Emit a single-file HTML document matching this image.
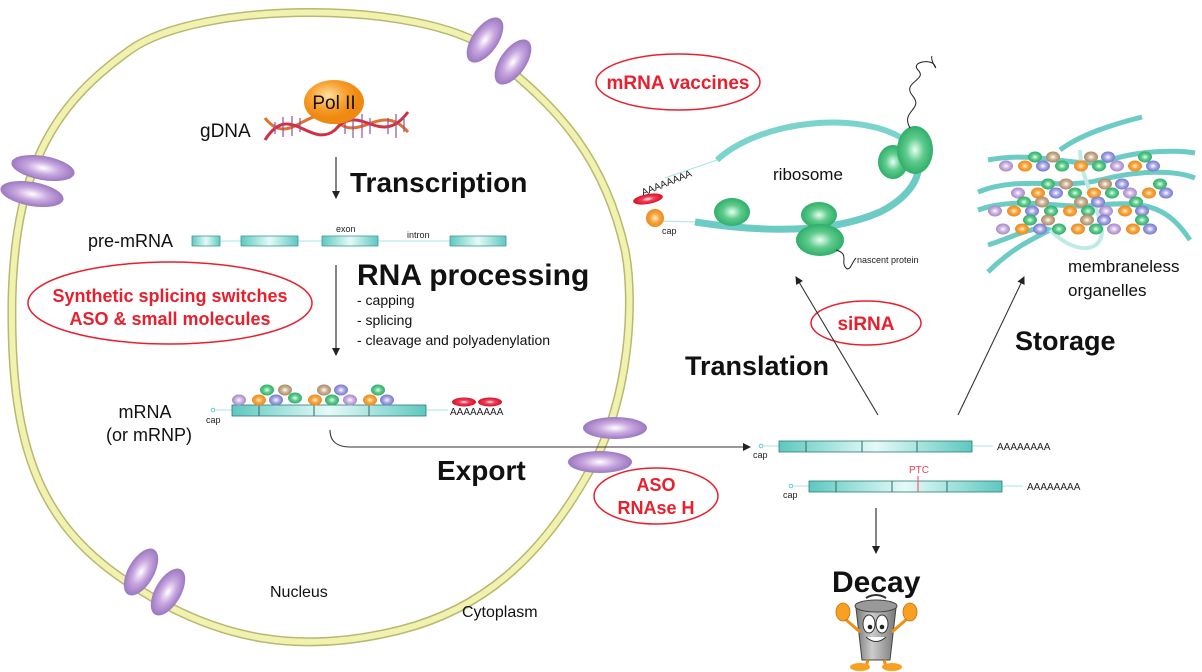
<!DOCTYPE html>
<html><head><meta charset="utf-8"><style>
html,body{margin:0;padding:0;background:#fff;width:1202px;height:672px;overflow:hidden}
svg{display:block;font-family:"Liberation Sans",Arial,sans-serif}
</style></head><body>
<svg width="1202" height="672" viewBox="0 0 1202 672" xmlns="http://www.w3.org/2000/svg">
<defs>
<radialGradient id="gG"><stop offset="0" stop-color="#e8fff0"/><stop offset="0.5" stop-color="#5fcb8d"/><stop offset="1" stop-color="#2fae6a"/></radialGradient>
<radialGradient id="gO"><stop offset="0" stop-color="#fff2d0"/><stop offset="0.5" stop-color="#f7a640"/><stop offset="1" stop-color="#ec8a1e"/></radialGradient>
<radialGradient id="gP"><stop offset="0" stop-color="#fff"/><stop offset="0.5" stop-color="#cdb3e3"/><stop offset="1" stop-color="#a788c8"/></radialGradient>
<radialGradient id="gB"><stop offset="0" stop-color="#fff"/><stop offset="0.5" stop-color="#a8a8e6"/><stop offset="1" stop-color="#7777cc"/></radialGradient>
<radialGradient id="gBr"><stop offset="0" stop-color="#fff"/><stop offset="0.5" stop-color="#cdb293"/><stop offset="1" stop-color="#a88a68"/></radialGradient>
<radialGradient id="gR"><stop offset="0" stop-color="#fff"/><stop offset="0.4" stop-color="#f0405a"/><stop offset="1" stop-color="#d81028"/></radialGradient>
<radialGradient id="gPore"><stop offset="0" stop-color="#fff"/><stop offset="0.5" stop-color="#c9a8e0"/><stop offset="1" stop-color="#9b78c0"/></radialGradient>
<radialGradient id="gPol" cx="0.4" cy="0.35"><stop offset="0" stop-color="#ffe0a0"/><stop offset="0.6" stop-color="#f8a030"/><stop offset="1" stop-color="#ee8a10"/></radialGradient>
<linearGradient id="gT" x1="0" y1="0" x2="1" y2="0"><stop offset="0" stop-color="#5ec8c0"/><stop offset="0.5" stop-color="#e6faf8"/><stop offset="1" stop-color="#5ec8c0"/></linearGradient>
<linearGradient id="gCan" x1="0" y1="0" x2="1" y2="0"><stop offset="0" stop-color="#777"/><stop offset="0.4" stop-color="#ccc"/><stop offset="1" stop-color="#777"/></linearGradient>
<g id="bP"><ellipse rx="7" ry="5.5" fill="url(#gP)"/></g>
<g id="bO"><ellipse rx="7" ry="5.5" fill="url(#gO)"/></g>
<g id="bB"><ellipse rx="7" ry="5.5" fill="url(#gB)"/></g>
<g id="bG"><ellipse rx="7" ry="5.5" fill="url(#gG)"/></g>
<g id="bBr"><ellipse rx="7" ry="5.5" fill="url(#gBr)"/></g>
<marker id="ar" markerWidth="8" markerHeight="8" refX="7" refY="4" orient="auto" markerUnits="userSpaceOnUse"><path d="M0,0 L8,4 L0,8 Z" fill="#222"/></marker>
</defs>

<!-- nucleus -->
<path d="M490,50 C420,0 200,0 130,50 C60,100 15,160 12,300 C10,450 40,530 140,590 C220,640 300,655 400,630 C480,610 540,560 590,470 C630,400 635,300 625,250 C605,160 560,110 500,62" fill="none" stroke="#b8b870" stroke-width="9"/>
<path d="M490,50 C420,0 200,0 130,50 C60,100 15,160 12,300 C10,450 40,530 140,590 C220,640 300,655 400,630 C480,610 540,560 590,470 C630,400 635,300 625,250 C605,160 560,110 500,62" fill="none" stroke="#f2f2b0" stroke-width="6"/>
<!-- pores -->
<ellipse cx="485" cy="40" rx="13" ry="26" transform="rotate(35 485 40)" fill="url(#gPore)"/>
<ellipse cx="513" cy="62" rx="13" ry="26" transform="rotate(35 513 62)" fill="url(#gPore)"/>
<ellipse cx="43" cy="168" rx="32" ry="12" transform="rotate(10 43 168)" fill="url(#gPore)"/>
<ellipse cx="32" cy="194" rx="32" ry="12" transform="rotate(10 32 194)" fill="url(#gPore)"/>
<ellipse cx="141" cy="572" rx="13" ry="26" transform="rotate(30 141 572)" fill="url(#gPore)"/>
<ellipse cx="168" cy="592" rx="13" ry="26" transform="rotate(30 168 592)" fill="url(#gPore)"/>
<ellipse cx="615" cy="428" rx="32" ry="11" fill="url(#gPore)"/>
<ellipse cx="600" cy="462" rx="32" ry="11" fill="url(#gPore)"/>

<!-- DNA -->
<g stroke-width="1.2">
<path d="M265,118 C290,150 310,100 335,120 C360,145 380,100 408,132" fill="none" stroke="#e07030" stroke-width="3"/>
<path d="M265,140 C290,100 310,150 335,130 C360,100 380,150 408,112" fill="none" stroke="#d03040" stroke-width="3"/>
<g stroke="#9050a0">
<line x1="275" y1="122" x2="275" y2="134"/><line x1="283" y1="117" x2="283" y2="137"/><line x1="292" y1="116" x2="292" y2="136"/><line x1="300" y1="118" x2="300" y2="132"/>
<line x1="345" y1="118" x2="345" y2="134"/><line x1="353" y1="114" x2="353" y2="138"/><line x1="362" y1="114" x2="362" y2="138"/><line x1="370" y1="118" x2="370" y2="134"/>
<line x1="388" y1="118" x2="388" y2="134"/><line x1="396" y1="114" x2="396" y2="138"/><line x1="404" y1="116" x2="404" y2="132"/>
</g></g>
<ellipse cx="334" cy="102" rx="30" ry="22" fill="url(#gPol)"/>
<text x="334" y="109" font-size="19" text-anchor="middle" fill="#111">Pol II</text>
<text x="200" y="137" font-size="19" fill="#111">gDNA</text>

<line x1="336" y1="157" x2="336" y2="198" stroke="#333" stroke-width="1.2" marker-end="url(#ar)"/>
<text x="350" y="192" font-size="28" font-weight="bold" fill="#111">Transcription</text>

<!-- pre-mRNA -->
<text x="88" y="247" font-size="18" fill="#111">pre-mRNA</text>
<line x1="220" y1="241" x2="450" y2="241" stroke="#a8e4e0" stroke-width="1"/>
<g stroke="#3a9c94" stroke-width="0.8" fill="url(#gT)">
<rect x="192" y="236" width="28" height="10"/><rect x="241" y="236" width="57" height="10"/><rect x="322" y="236" width="56" height="10"/><rect x="450" y="236" width="56" height="10"/></g>
<text x="336" y="232" font-size="9" fill="#222">exon</text>
<text x="407" y="238" font-size="9" fill="#222">intron</text>

<line x1="336" y1="265" x2="336" y2="355" stroke="#333" stroke-width="1.2" marker-end="url(#ar)"/>
<text x="357" y="285" font-size="30" font-weight="bold" fill="#111">RNA processing</text>
<text x="357" y="305" font-size="14" fill="#111">- capping</text>
<text x="357" y="325" font-size="14" fill="#111">- splicing</text>
<text x="357" y="345" font-size="14" fill="#111">- cleavage and polyadenylation</text>

<ellipse cx="170" cy="303" rx="142" ry="41" fill="none" stroke="#e8202e" stroke-width="1.5"/>
<text x="170" y="302" font-size="18" font-weight="bold" fill="#e8202e" text-anchor="middle">Synthetic splicing switches</text>
<text x="170" y="325" font-size="18" font-weight="bold" fill="#e8202e" text-anchor="middle">ASO &amp; small molecules</text>

<!-- nuclear mRNA -->
<text x="145" y="418" font-size="18" fill="#111" text-anchor="middle">mRNA</text>
<text x="149" y="441" font-size="18" fill="#111" text-anchor="middle">(or mRNP)</text>
<text x="206" y="423" font-size="9" fill="#222">cap</text>
<circle cx="213" cy="410" r="1.8" fill="none" stroke="#6cc"/>
<line x1="215" y1="410" x2="448" y2="410" stroke="#a8e4e0"/>
<g stroke="#2a7c74" stroke-width="0.8" fill="url(#gT)"><rect x="232" y="405" width="194" height="11"/></g>
<g stroke="#2a6c64"><line x1="259" y1="405" x2="259" y2="416"/><line x1="314" y1="405" x2="314" y2="416"/><line x1="369" y1="405" x2="369" y2="416"/></g>
<ellipse cx="464" cy="402" rx="12" ry="4.5" fill="url(#gR)"/><ellipse cx="490" cy="402" rx="12" ry="4.5" fill="url(#gR)"/>
<text x="450" y="415" font-size="10" fill="#222">AAAAAAAA</text>
<use href="#bP" x="239" y="400"/><use href="#bO" x="259" y="400"/><use href="#bB" x="276" y="400"/><use href="#bG" x="295" y="398"/><use href="#bO" x="315" y="400"/><use href="#bG" x="332" y="400"/><use href="#bP" x="350" y="400"/><use href="#bO" x="370" y="400"/><use href="#bB" x="387" y="400"/>
<use href="#bG" x="267" y="390"/><use href="#bBr" x="285" y="390"/><use href="#bBr" x="324" y="390"/><use href="#bB" x="341" y="390"/><use href="#bG" x="378" y="390"/>

<!-- export -->
<path d="M330,430 C330,442 338,447 350,447 L750,447" fill="none" stroke="#333" stroke-width="1.1" marker-end="url(#ar)"/>
<text x="437" y="480" font-size="28" font-weight="bold" fill="#111">Export</text>
<text x="270" y="597" font-size="16" fill="#111">Nucleus</text>
<text x="462" y="617" font-size="16" fill="#111">Cytoplasm</text>

<ellipse cx="656" cy="496" rx="62" ry="28" fill="none" stroke="#e8202e" stroke-width="1.5"/>
<text x="656" y="491" font-size="18" font-weight="bold" fill="#e8202e" text-anchor="middle">ASO</text>
<text x="656" y="514" font-size="18" font-weight="bold" fill="#e8202e" text-anchor="middle">RNAse H</text>

<ellipse cx="678" cy="82" rx="82" ry="28" fill="none" stroke="#e8202e" stroke-width="1.5"/>
<text x="678" y="89" font-size="19" font-weight="bold" fill="#e8202e" text-anchor="middle">mRNA vaccines</text>

<ellipse cx="866" cy="323" rx="55" ry="22" fill="none" stroke="#e8202e" stroke-width="1.5"/>
<text x="866" y="330" font-size="19" font-weight="bold" fill="#e8202e" text-anchor="middle">siRNA</text>

<text x="685" y="375" font-size="27" font-weight="bold" fill="#111">Translation</text>
<text x="1015" y="350" font-size="27" font-weight="bold" fill="#111">Storage</text>
<line x1="878" y1="415" x2="796" y2="277" stroke="#333" stroke-width="1.1" marker-end="url(#ar)"/>
<line x1="958" y1="415" x2="1024" y2="277" stroke="#333" stroke-width="1.1" marker-end="url(#ar)"/>

<!-- cytoplasmic mRNAs -->
<circle cx="761" cy="446" r="1.8" fill="none" stroke="#6cc"/>
<line x1="763" y1="446" x2="993" y2="446" stroke="#a8e4e0"/>
<rect x="779" y="441" width="193" height="11" fill="url(#gT)" stroke="#2a7c74" stroke-width="0.8"/>
<g stroke="#2a6c64"><line x1="806" y1="441" x2="806" y2="452"/><line x1="862" y1="441" x2="862" y2="452"/><line x1="917" y1="441" x2="917" y2="452"/></g>
<text x="753" y="458" font-size="9" fill="#222">cap</text>
<text x="997" y="450" font-size="10" fill="#222">AAAAAAAA</text>
<circle cx="791" cy="486" r="1.8" fill="none" stroke="#6cc"/>
<line x1="793" y1="486" x2="1023" y2="486" stroke="#a8e4e0"/>
<rect x="809" y="481" width="193" height="11" fill="url(#gT)" stroke="#2a7c74" stroke-width="0.8"/>
<g stroke="#2a6c64"><line x1="836" y1="481" x2="836" y2="492"/><line x1="892" y1="481" x2="892" y2="492"/><line x1="947" y1="481" x2="947" y2="492"/></g>
<line x1="918" y1="476" x2="918" y2="492" stroke="#f06070" stroke-width="1.2"/>
<text x="909" y="473" font-size="10" fill="#f04050">PTC</text>
<text x="783" y="498" font-size="9" fill="#222">cap</text>
<text x="1027" y="490" font-size="10" fill="#222">AAAAAAAA</text>

<line x1="876" y1="508" x2="876" y2="553" stroke="#333" stroke-width="1.2" marker-end="url(#ar)"/>
<text x="832" y="592" font-size="30" font-weight="bold" fill="#111">Decay</text>

<!-- trash can -->
<g>
<path d="M856,608 L896,608 L890,660 L862,660 Z" fill="url(#gCan)" stroke="#444" stroke-width="1"/>
<ellipse cx="876" cy="606" rx="21" ry="6" fill="#999" stroke="#444"/>
<path d="M866,598 Q876,592 886,598" fill="none" stroke="#333" stroke-width="2"/>
<ellipse cx="869" cy="624" rx="6" ry="9" fill="#fff" stroke="#333"/><ellipse cx="882" cy="624" rx="6" ry="9" fill="#fff" stroke="#333"/>
<circle cx="870" cy="627" r="2.3" fill="#222"/><circle cx="882" cy="627" r="2.3" fill="#222"/>
<path d="M866,637 Q876,646 886,637" fill="#fff" stroke="#333"/>
<path d="M860,632 L844,618" stroke="#f09010" stroke-width="3"/><ellipse cx="843" cy="612" rx="7" ry="9" fill="#f8a020" stroke="#c87010" stroke-width="0.8"/>
<path d="M892,632 L908,618" stroke="#f09010" stroke-width="3"/><ellipse cx="910" cy="612" rx="7" ry="9" fill="#f8a020" stroke="#c87010" stroke-width="0.8"/>
<path d="M868,660 L866,666 M884,660 L886,666" stroke="#f09010" stroke-width="3"/>
<ellipse cx="860" cy="667" rx="10" ry="4" fill="#f8a020"/><ellipse cx="892" cy="667" rx="10" ry="4" fill="#f8a020"/>
</g>

<!-- ribosome translation -->
<path d="M695,222 C760,232 830,234 880,212 C920,192 930,160 905,140" fill="none" stroke="#6ccbc4" stroke-width="7"/>
<path d="M717,160 C760,120 860,110 905,140" fill="none" stroke="#7ad4cc" stroke-width="6"/>
<line x1="665" y1="178" x2="717" y2="160" stroke="#a8e4e0" stroke-width="1"/>
<line x1="662" y1="221" x2="695" y2="222" stroke="#a8e4e0" stroke-width="1"/>
<ellipse cx="732" cy="212" rx="18" ry="14" fill="url(#gG)"/>
<ellipse cx="819" cy="215" rx="18" ry="13" fill="url(#gG)"/>
<ellipse cx="820" cy="240" rx="24" ry="16" fill="url(#gG)"/>
<ellipse cx="893" cy="162" rx="15" ry="17" fill="url(#gG)"/>
<ellipse cx="915" cy="150" rx="18" ry="24" fill="url(#gG)"/>
<path d="M910,128 C900,110 925,110 912,95 C902,82 928,80 918,70 C910,62 932,58 935,66 C938,72 930,60 932,56" fill="none" stroke="#222" stroke-width="1"/>
<path d="M836,250 C850,254 840,262 846,268 C850,272 852,262 856,258" fill="none" stroke="#222" stroke-width="1"/>
<text x="857" y="263" font-size="9" fill="#222">nascent protein</text>
<text x="773" y="180" font-size="17" fill="#111">ribosome</text>
<text x="643" y="196" font-size="10" fill="#222" transform="rotate(-22 643 196)">AAAAAAAA</text>
<ellipse cx="648" cy="199" rx="15" ry="5" transform="rotate(-10 648 199)" fill="url(#gR)"/>
<circle cx="655" cy="218" r="9" fill="url(#gO)"/>
<text x="662" y="234" font-size="9" fill="#222">cap</text>

<!-- storage -->
<g fill="none" stroke="#6ccbc4" stroke-width="5">
<path d="M988,160 C1040,150 1080,170 1110,160 C1140,150 1180,150 1195,153"/>
<path d="M978,192 C1020,175 1060,190 1100,180 C1140,170 1175,170 1195,178"/>
<path d="M978,210 C1020,195 1060,210 1100,205 C1150,200 1170,210 1190,240"/>
<path d="M988,245 C1020,235 1040,220 1060,235"/>
<path d="M988,272 C1010,250 1030,240 1050,230"/>
<path d="M1060,150 C1080,135 1110,125 1142,117"/>
</g>
<path d="M1050,230 C1080,260 1110,250 1100,220 C1090,190 1080,170 1080,150" fill="none" stroke="#bfeae6" stroke-width="4"/>
<g>
<use href="#bG" x="1035" y="157"/><use href="#bBr" x="1053" y="157"/><use href="#bBr" x="1091" y="157"/><use href="#bB" x="1108" y="157"/><use href="#bG" x="1145" y="157"/>
<use href="#bP" x="1006" y="166"/><use href="#bO" x="1025" y="166"/><use href="#bB" x="1043" y="166"/><use href="#bG" x="1062" y="166"/><use href="#bO" x="1081" y="166"/><use href="#bG" x="1099" y="166"/><use href="#bP" x="1117" y="166"/><use href="#bO" x="1135" y="166"/><use href="#bB" x="1153" y="166"/>
<use href="#bG" x="1048" y="184"/><use href="#bBr" x="1066" y="184"/><use href="#bBr" x="1105" y="184"/><use href="#bB" x="1122" y="184"/><use href="#bG" x="1160" y="184"/>
<use href="#bP" x="1018" y="193"/><use href="#bO" x="1038" y="193"/><use href="#bB" x="1056" y="193"/><use href="#bG" x="1075" y="193"/><use href="#bO" x="1094" y="193"/><use href="#bG" x="1112" y="193"/><use href="#bP" x="1130" y="193"/><use href="#bO" x="1149" y="193"/><use href="#bB" x="1166" y="193"/>
<use href="#bG" x="1024" y="202"/><use href="#bBr" x="1042" y="202"/><use href="#bBr" x="1081" y="202"/><use href="#bB" x="1098" y="202"/><use href="#bG" x="1136" y="202"/>
<use href="#bP" x="995" y="211"/><use href="#bO" x="1014" y="211"/><use href="#bB" x="1032" y="211"/><use href="#bG" x="1051" y="211"/><use href="#bO" x="1070" y="211"/><use href="#bG" x="1088" y="211"/><use href="#bP" x="1106" y="211"/><use href="#bO" x="1125" y="211"/><use href="#bB" x="1142" y="211"/>
<use href="#bG" x="1030" y="220"/><use href="#bBr" x="1048" y="220"/><use href="#bBr" x="1087" y="220"/><use href="#bB" x="1104" y="220"/><use href="#bG" x="1142" y="220"/>
<use href="#bP" x="1003" y="229"/><use href="#bO" x="1022" y="229"/><use href="#bB" x="1040" y="229"/><use href="#bG" x="1059" y="229"/><use href="#bO" x="1078" y="229"/><use href="#bG" x="1096" y="229"/><use href="#bP" x="1114" y="229"/><use href="#bO" x="1133" y="229"/><use href="#bB" x="1150" y="229"/>
</g>
<text x="1068" y="272" font-size="17" fill="#111">membraneless</text>
<text x="1068" y="296" font-size="17" fill="#111">organelles</text>
</svg>
</body></html>
